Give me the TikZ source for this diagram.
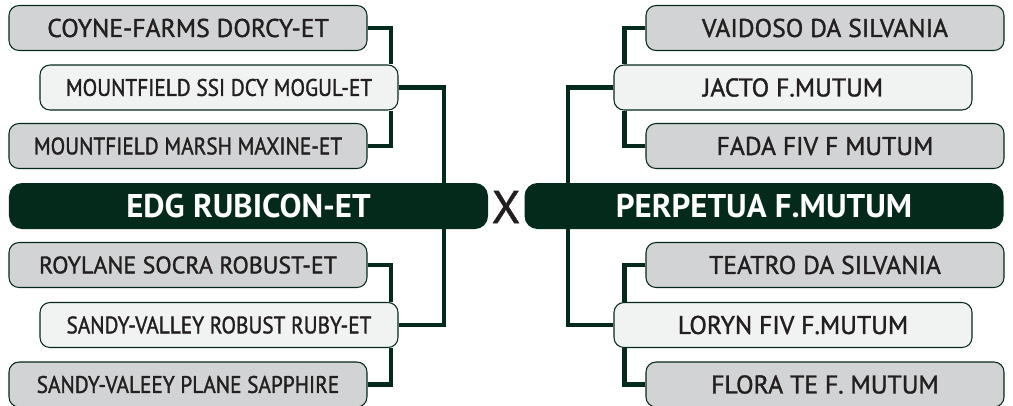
\documentclass[tikz,border=0pt]{standalone}
\usepackage{fontspec}
\setmainfont{PT Sans}
\newfontfamily\namefont{PT Sans}[FakeBold=1.3]
\newfontfamily\longnamefont{PT Sans}[FakeBold=1.3, FakeStretch=0.89]
\usetikzlibrary{positioning}
\definecolor{pine}{RGB}{3,42,26}
\definecolor{ink}{RGB}{35,31,32}
\definecolor{greybox}{RGB}{209,211,212}
\definecolor{palebox}{RGB}{241,242,242}

\begin{document}
\begin{tikzpicture}[
    outer/.style={draw=pine, line width=0.6pt, rounded corners=0.2cm, fill=greybox, text=ink, minimum width=7.16cm, minimum height=0.9cm, inner sep=0pt},
    inner/.style={outer, fill=palebox},
    finalist/.style={fill=pine, rounded corners=0.26cm, text=white, minimum width=9.58cm, minimum height=0.92cm, inner sep=0pt, font=\bfseries\fontsize{18.7}{20}\selectfont},
    big/.style={font=\namefont\fontsize{14.6}{16}\selectfont},
    mid/.style={font=\namefont\fontsize{13.6}{15}\selectfont},
    small/.style={font=\longnamefont\fontsize{13.6}{15}\selectfont},
    link/.style={draw=pine, line width=2.3pt}
]
\useasboundingbox (0,0) rectangle (20.26,-8.1);

% left side
\node[outer,big] (coyne) at (3.76,-0.56) {COYNE-FARMS DORCY-ET};
\node[inner,small] (mogul) at (4.38,-1.75) {MOUNTFIELD SSI DCY MOGUL-ET};
\node[outer,small] (maxine) at (3.76,-2.92) {MOUNTFIELD MARSH MAXINE-ET};
\node[finalist] (rubicon) at (4.97,-4.12) {EDG RUBICON-ET};
\node[outer,mid] (roylane) at (3.76,-5.30) {ROYLANE SOCRA ROBUST-ET};
\node[inner,small] (ruby) at (4.38,-6.50) {SANDY-VALLEY ROBUST RUBY-ET};
\node[outer,small] (sapphire) at (3.76,-7.69) {SANDY-VALEEY PLANE SAPPHIRE};

\node[text=ink, font=\namefont\fontsize{26}{28}\selectfont] (vs) at (10.12,-4.14) {X};

% right side
\node[outer,big] (vaidoso) at (16.5,-0.56) {VAIDOSO DA SILVANIA};
\node[inner,big] (jacto) at (15.86,-1.75) {JACTO F.MUTUM};
\node[outer,big] (fada) at (16.5,-2.92) {FADA FIV F MUTUM};
\node[finalist] (perpetua) at (15.28,-4.12) {PERPETUA F.MUTUM};
\node[outer,big] (teatro) at (16.5,-5.30) {TEATRO DA SILVANIA};
\node[inner,big] (loryn) at (15.86,-6.50) {LORYN FIV F.MUTUM};
\node[outer,big] (flora) at (16.5,-7.69) {FLORA TE F. MUTUM};

% brackets
\draw[link] (coyne.east) -| ([xshift=-0.16cm]mogul.north east);
\draw[link] (maxine.east) -| ([xshift=-0.16cm]mogul.south east);
\draw[link] (mogul.east) -| ([xshift=-0.88cm]rubicon.north east);
\draw[link] (roylane.east) -| ([xshift=-0.16cm]ruby.north east);
\draw[link] (sapphire.east) -| ([xshift=-0.16cm]ruby.south east);
\draw[link] (ruby.east) -| ([xshift=-0.88cm]rubicon.south east);

\draw[link] (vaidoso.west) -| ([xshift=0.22cm]jacto.north west);
\draw[link] (fada.west) -| ([xshift=0.22cm]jacto.south west);
\draw[link] (jacto.west) -| ([xshift=0.88cm]perpetua.north west);
\draw[link] (teatro.west) -| ([xshift=0.22cm]loryn.north west);
\draw[link] (flora.west) -| ([xshift=0.22cm]loryn.south west);
\draw[link] (loryn.west) -| ([xshift=0.88cm]perpetua.south west);
\end{tikzpicture}
\end{document}
